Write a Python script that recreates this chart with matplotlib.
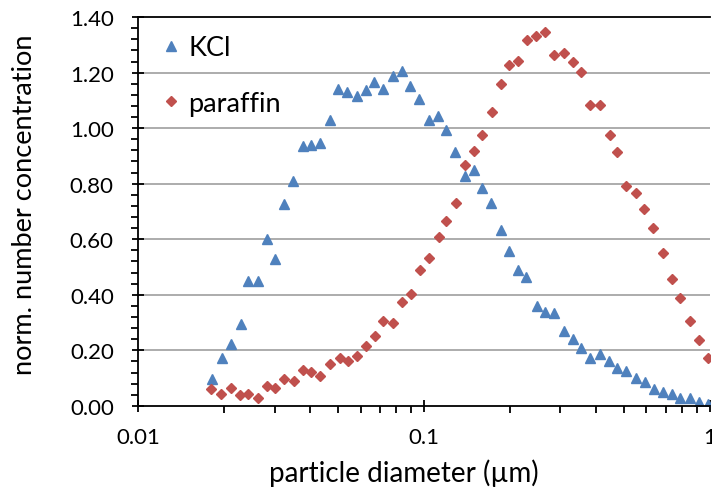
import matplotlib.pyplot as plt
from matplotlib.ticker import FixedLocator, NullFormatter
import numpy as np

# KCl size distribution
kcl_d = [0.0181, 0.0196, 0.0212, 0.0229, 0.0242, 0.0262, 0.0282, 0.0300, 0.0324, 0.0348,
	0.0376, 0.0404, 0.0434, 0.0468, 0.0500, 0.0538, 0.0583, 0.0628, 0.0668, 0.0720,
	0.0779, 0.0839, 0.0893, 0.0960, 0.104, 0.112, 0.119, 0.128, 0.139, 0.150,
	0.160, 0.172, 0.186, 0.199, 0.213, 0.227, 0.248, 0.264, 0.286, 0.308,
	0.331, 0.355, 0.382, 0.413, 0.443, 0.474, 0.510, 0.550, 0.591, 0.636,
	0.686, 0.738, 0.789, 0.851, 0.917, 0.987]
kcl_n = [0.096, 0.174, 0.222, 0.294, 0.450, 0.450, 0.600, 0.529, 0.727, 0.811,
	0.935, 0.940, 0.945, 1.030, 1.140, 1.129, 1.117, 1.139, 1.168, 1.141,
	1.187, 1.207, 1.151, 1.105, 1.031, 1.045, 0.995, 0.913, 0.829, 0.851,
	0.783, 0.731, 0.634, 0.559, 0.490, 0.463, 0.360, 0.339, 0.334, 0.270,
	0.240, 0.207, 0.174, 0.186, 0.162, 0.135, 0.126, 0.102, 0.087, 0.060,
	0.050, 0.042, 0.030, 0.030, 0.014, 0.006]

# paraffin size distribution
par_d = [0.0180, 0.0195, 0.0211, 0.0227, 0.0243, 0.0262, 0.0282, 0.0302, 0.0325, 0.0350,
	0.0377, 0.0404, 0.0434, 0.0468, 0.0510, 0.0542, 0.0583, 0.0628, 0.0673, 0.0720,
	0.0780, 0.0839, 0.0898, 0.0966, 0.104, 0.113, 0.119, 0.129, 0.139, 0.150,
	0.160, 0.173, 0.186, 0.199, 0.214, 0.230, 0.246, 0.264, 0.286, 0.308,
	0.331, 0.355, 0.382, 0.413, 0.446, 0.474, 0.510, 0.553, 0.589, 0.632,
	0.686, 0.740, 0.789, 0.851, 0.917, 0.987]
par_n = [0.060, 0.042, 0.063, 0.039, 0.042, 0.027, 0.070, 0.066, 0.096, 0.090,
	0.130, 0.123, 0.108, 0.150, 0.174, 0.162, 0.180, 0.216, 0.250, 0.306,
	0.298, 0.373, 0.403, 0.490, 0.531, 0.607, 0.667, 0.731, 0.867, 0.919,
	0.975, 1.057, 1.159, 1.228, 1.243, 1.319, 1.331, 1.346, 1.264, 1.271,
	1.237, 1.204, 1.084, 1.084, 0.975, 0.913, 0.793, 0.767, 0.709, 0.639,
	0.550, 0.457, 0.387, 0.306, 0.238, 0.174]

yticks = [0.0, 0.2, 0.4, 0.6, 0.8, 1.0, 1.2, 1.4]
xticks = [0.01, 0.1, 1]
xlabels = ['0.01', '0.1', '1']

plt.rcParams['font.family'] = ['Lato', 'DejaVu Sans']

fig = plt.figure(figsize=(7.12, 4.89), dpi=100)
ax = fig.add_axes([0.194, 0.168, 0.803, 0.795])

ax.plot(kcl_d, kcl_n, ls='none', marker='^', ms=7.5, color='#4F81BD', label='KCl')
ax.plot(par_d, par_n, ls='none', marker='D', ms=5.5, color='#C0504D', label='paraffin')

ax.set_xscale('log')
ax.set_xlim(0.01, 1)
ax.set_ylim(0, 1.4)

ax.set_xticks(xticks)
ax.set_xticklabels(xlabels)
ax.set_yticks(yticks)
ax.set_yticklabels(['%.2f' % v for v in yticks])
ax.yaxis.set_minor_locator(FixedLocator(np.arange(0, 1.41, 0.04)))
ax.xaxis.set_minor_formatter(NullFormatter())

ax.tick_params(axis='both', which='major', direction='inout', length=9, width=1.3, labelsize=16, pad=11)
ax.tick_params(axis='both', which='minor', direction='out', length=5, width=1.3)
ax.tick_params(axis='y', which='major', pad=13)

for v in yticks[1:-1]:
	ax.axhline(v, color='#a6a6a6', lw=1.3, zorder=0)

ax.spines['right'].set_visible(False)
for s in ['left', 'bottom', 'top']:
	ax.spines[s].set_linewidth(1.3)

ax.set_xlabel('particle diameter (µm)', fontsize=20)
ax.set_ylabel('norm. number concentration', fontsize=19.5)
ax.xaxis.set_label_coords(0.465, -0.135)
ax.yaxis.set_label_coords(-0.177, 0.52)

ax.legend(loc='upper left', frameon=False, fontsize=19.5, handletextpad=0.05, labelspacing=1.13,
	borderaxespad=0.2, handlelength=1.2, bbox_to_anchor=(0.0, 0.995))

fig.savefig('out.png', dpi=100)
